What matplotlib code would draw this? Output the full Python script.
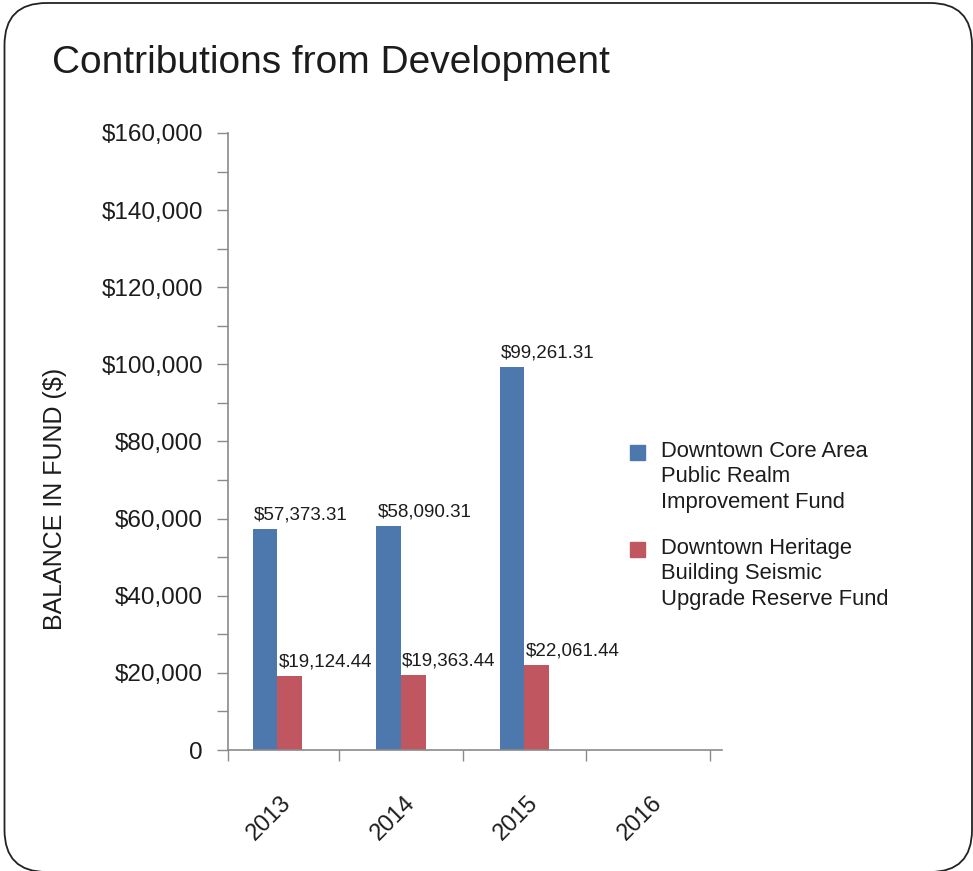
import matplotlib
matplotlib.use('Agg')
import numpy as np
from matplotlib import pyplot as plt
from matplotlib.patches import FancyBboxPatch, Rectangle
from matplotlib.ticker import MultipleLocator, FuncFormatter

years = ['2013', '2014', '2015', '2016']
core_fund = [57373.31, 58090.31, 99261.31, np.nan]
heritage_fund = [19124.44, 19363.44, 22061.44, np.nan]
series_names = ['Downtown Core Area\nPublic Realm\nImprovement Fund',
                'Downtown Heritage\nBuilding Seismic\nUpgrade Reserve Fund']
colors = ['#4C78AD', '#C0565F']

plt.rcParams['font.family'] = ['Liberation Sans', 'DejaVu Sans']
text_color = '#1c1c1c'
axis_color = '#8a8a8a'

W, H = 973, 871
fig = plt.figure(figsize=(W / 100, H / 100), dpi=100)

# rounded slide border, in inches so the corners stay round
border = FancyBboxPatch((0.045, -0.01), 9.675, 8.69,
                        boxstyle='round,pad=0,rounding_size=0.42',
                        transform=fig.dpi_scale_trans, fill=False,
                        edgecolor='#222222', linewidth=1.3)
fig.patches.append(border)

fig.text(52 / W, 1 - 73 / H, 'Contributions from Development', fontsize=28,
         color=text_color, ha='left', va='baseline')

ax = fig.add_axes([228 / W, 1 - 750 / H, (722 - 228) / W, (750 - 133) / H])

x = np.arange(len(years))
width = 0.2
bars1 = ax.bar(x - width / 2, core_fund, width, color=colors[0])
bars2 = ax.bar(x + width / 2, heritage_fund, width, color=colors[1])

for bars, vals in [(bars1, core_fund), (bars2, heritage_fund)]:
    for b, v in zip(bars, vals):
        if np.isnan(v):
            continue
        ax.annotate(f'${v:,.2f}', (b.get_x(), v), xytext=(1, 4),
                    textcoords='offset points', ha='left', va='bottom',
                    fontsize=13.5, color=text_color)

ax.set_xlim(-0.4, 3.6)
ax.set_ylim(0, 160000)

ax.yaxis.set_major_locator(MultipleLocator(20000))
ax.yaxis.set_minor_locator(MultipleLocator(10000))
ax.yaxis.set_major_formatter(FuncFormatter(lambda v, p: '0' if v == 0 else f'${v:,.0f}'))
ax.tick_params(axis='y', which='both', direction='out', length=8, width=1,
               color=axis_color, labelsize=17.5, labelcolor=text_color, pad=10)

ax.set_xticks([-0.4, 0.5, 1.5, 2.5, 3.5])
ax.set_xticklabels([])
ax.tick_params(axis='x', which='major', direction='out', length=8, width=1, color=axis_color)
ax.set_xticks(x + 0.15, minor=True)
ax.set_xticklabels(years, minor=True, rotation=45, ha='right', va='top',
                   fontsize=17, color=text_color)
ax.tick_params(axis='x', which='minor', length=0, pad=30)

for side in ['top', 'right']:
    ax.spines[side].set_visible(False)
for side in ['left', 'bottom']:
    ax.spines[side].set_color(axis_color)
    ax.spines[side].set_linewidth(1.2)

fig.text(55 / W, 1 - 499 / H, 'BALANCE IN FUND ($)', rotation=90, fontsize=18,
         color=text_color, ha='center', va='center')

# legend drawn by hand so the square sits next to the first line
legend_tops = [441, 538]
for name, c, top in zip(series_names, colors, legend_tops):
    fig.patches.append(Rectangle((630 / W, 1 - (top + 19) / H), 15 / W, 15 / H,
                                 transform=fig.transFigure, color=c))
    fig.text(661 / W, 1 - top / H, name, fontsize=15.8, color=text_color,
             ha='left', va='top', linespacing=1.27)

fig.savefig('out.png', dpi=100)
